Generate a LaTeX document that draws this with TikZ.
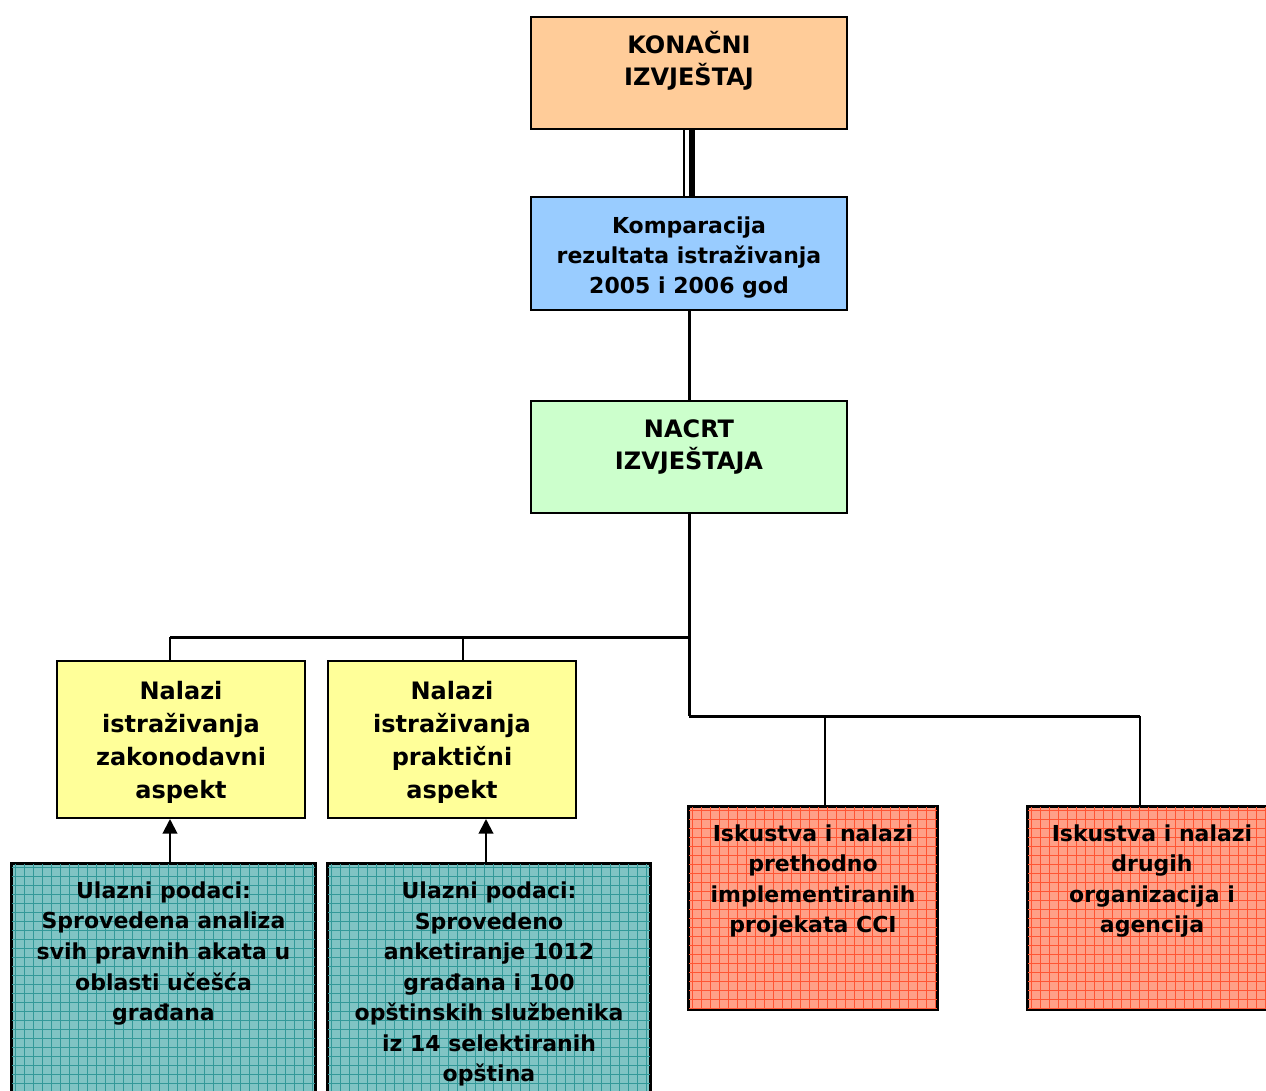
\documentclass[tikz,border=0pt]{standalone}
\usepackage{fontspec}
\setmainfont{DejaVu Sans}
\usetikzlibrary{arrows.meta,calc}
\definecolor{cfin}{RGB}{255,204,153}
\definecolor{ckomp}{RGB}{153,204,255}
\definecolor{cnacrt}{RGB}{204,255,204}
\definecolor{cyel}{RGB}{255,255,153}
\definecolor{cteal}{RGB}{128,196,196}
\definecolor{ctealgrid}{RGB}{51,153,153}
\definecolor{cred}{RGB}{255,160,135}
\definecolor{credgrid}{RGB}{255,85,51}
\begin{document}
\begin{tikzpicture}[x=0.75pt,y=-0.75pt,
  box/.style={draw=black,line width=1.5pt,inner sep=0pt},
  txt/.style={align=center,inner sep=0pt,font=\bfseries\fontsize{16.5pt}{22.5pt}\selectfont},
  txtb/.style={align=center,inner sep=0pt,font=\bfseries\fontsize{16.5pt}{22.9pt}\selectfont},
  bigtxt/.style={align=center,inner sep=0pt,font=\bfseries\fontsize{18pt}{24pt}\selectfont},
  yeltxt/.style={align=center,inner sep=0pt,font=\bfseries\fontsize{18pt}{24.75pt}\selectfont},
  thick conn/.style={line width=2.25pt},
  thin conn/.style={line width=1.5pt},
  arr/.style={line width=1.5pt,-{Triangle[width=11pt,length=11pt]}},
  gridline/.style={line width=0.75pt}]
\useasboundingbox (0,0) rectangle (1266,1091);
\fill[white] (0,0) rectangle (1266,1091);

% main boxes
\node[box,fill=cfin,minimum width=237pt,minimum height=84pt] (fin) at (689,73) {};
\node[box,fill=ckomp,minimum width=237pt,minimum height=84.75pt] (komp) at (689,253.5) {};
\node[box,fill=cnacrt,minimum width=237pt,minimum height=84pt] (nacrt) at (689,457) {};
\node[box,fill=cyel,minimum width=186pt,minimum height=117.75pt] (ya) at (181,739.5) {};
\node[box,fill=cyel,minimum width=186pt,minimum height=117.75pt] (yb) at (452,739.5) {};
\node[box,fill=cteal,minimum width=227.25pt,minimum height=177pt] (ta) at (163.5,982) {};
\node[box,fill=cteal,minimum width=241.5pt,minimum height=177pt] (tb) at (489,982) {};
\node[box,fill=cred,minimum width=186pt,minimum height=151.5pt] (ra) at (813,908) {};
\node[box,fill=cred,minimum width=186pt,minimum height=151.5pt] (rb) at (1152,908) {};

% grid patterns (9px pitch, pixel aligned)
\foreach \b/\g in {ta/ctealgrid,tb/ctealgrid,ra/credgrid,rb/credgrid}{
  \begin{scope}
    \clip (\b.south west) rectangle (\b.north east);
    \foreach \i in {4.5,13.5,...,340}{
      \draw[gridline,\g] ($(\b.north west)+(\i,0)$) -- ($(\b.south west)+(\i,0)$);
      \draw[gridline,\g] ($(\b.north west)+(0,\i)$) -- ($(\b.north east)+(0,\i)$);
    }
  \end{scope}
  \draw[line width=1.5pt] (\b.south west) rectangle (\b.north east);
}

% texts
\node[bigtxt] (finT) at (689,61) {KONAČNI\\IZVJEŠTAJ};
\node[txt] (kompT) at (689,258) {Komparacija\\rezultata istraživanja\\2005 i 2006 god};
\node[bigtxt] (nacrtT) at (689,447) {NACRT\\IZVJEŠTAJA};
\node[yeltxt] (yaT) at (181,742) {Nalazi\\istraživanja\\zakonodavni\\aspekt};
\node[yeltxt] (ybT) at (452,742) {Nalazi\\istraživanja\\praktični\\aspekt};
\node[txtb] (taT) at (163.5,953.5) {Ulazni podaci:\\Sprovedena analiza\\svih pravnih akata u\\oblasti učešća\\građana};
\node[txtb] (tbT) at (489,984) {Ulazni podaci:\\Sprovedeno\\anketiranje 1012\\građana i 100\\opštinskih službenika\\iz 14 selektiranih\\opština};
\node[txtb] (raT) at (813,881) {Iskustva i nalazi\\prethodno\\implementiranih\\projekata CCI};
\node[txtb] (rbT) at (1152,881) {Iskustva i nalazi\\drugih\\organizacija i\\agencija};

% junctions
\coordinate (jl) at (689,637);
\coordinate (jr) at (689,716);

% connectors
\draw[line width=0.9pt] ($(fin.south)+(-5,0)$) -- ($(komp.north)+(-5,0)$);
\draw[line width=4.5pt] ($(fin.south)+(2.5,0)$) -- ($(komp.north)+(2.5,0)$);
\draw[thick conn] (komp.south) -- (nacrt.north);
\draw[thick conn] (nacrt.south) -- (jr);
\draw[thick conn] (jl) -- (170,637);
\draw[thick conn] (jr) -- (1140,716);
\draw[thin conn] (170,637) -- (170,0 |- ya.north);
\draw[thin conn] (463,637) -- (463,0 |- yb.north);
\draw[thin conn] (825,716) -- (825,0 |- ra.north);
\draw[thin conn] (1140,716) -- (1140,0 |- rb.north);
\draw[arr] (170,0 |- ta.north) -- (170,0 |- ya.south);
\draw[arr] (486,0 |- tb.north) -- (486,0 |- yb.south);
\end{tikzpicture}
\end{document}
